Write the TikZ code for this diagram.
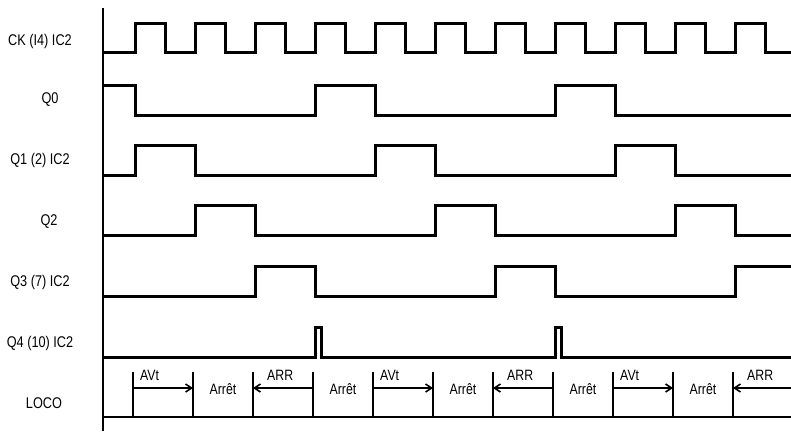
\documentclass[tikz,border=0pt]{standalone}
\usepackage{fontspec}
\setmainfont{Liberation Sans}[FakeStretch=0.82]
\usetikzlibrary{arrows.meta}
\begin{document}
\begin{tikzpicture}[x=1pt,y=-1pt,
  wave/.style={line width=3pt,line join=miter,line cap=butt},
  sig/.style={font=\fontsize{15.5}{17}\selectfont,inner sep=0pt},
  loco/.style={font=\fontsize{15}{17}\selectfont,inner sep=0pt},
  tickline/.style={line width=1.4pt},
  dirarrow/.style={line width=1.3pt,-{Straight Barb[length=6pt,width=8pt,line width=1.6pt]}}]
\useasboundingbox (0,0) rectangle (791,431);
\fill[white] (0,0) rectangle (791,431);
% axis
\draw[line width=2pt] (103,8) -- (103,431);
% labels
\node[sig] (lck) at (40,41) {CK (I4) IC2};
\node[sig] (lq0) at (50,100) {Q0};
\node[sig] (lq1) at (40,160) {Q1 (2) IC2};
\node[sig] (lq2) at (49,222) {Q2};
\node[sig] (lq3) at (40,282) {Q3 (7) IC2};
\node[sig] (lq4) at (40,343) {Q4 (10) IC2};
\node[sig] (lloco) at (44,403) {LOCO};
% CK
\draw[wave] (104,52) \foreach \r in {135,195,...,735} { -- (\r,52) -- (\r,23) -- ({\r+30},23) -- ({\r+30},52) } -- (791,52);
% Q0
\draw[wave] (104,85) -- (135,85) -- (135,115) -- (315,115) -- (315,85) -- (375,85) -- (375,115)
  -- (555,115) -- (555,85) -- (615,85) -- (615,115) -- (791,115);
% Q1
\draw[wave] (104,175) -- (135,175) -- (135,145) -- (195,145) -- (195,175) -- (375,175) -- (375,145)
  -- (435,145) -- (435,175) -- (615,175) -- (615,145) -- (675,145) -- (675,175) -- (791,175);
% Q2
\draw[wave] (104,235) -- (195,235) -- (195,205) -- (255,205) -- (255,235) -- (435,235) -- (435,205)
  -- (495,205) -- (495,235) -- (675,235) -- (675,205) -- (735,205) -- (735,235) -- (791,235);
% Q3
\draw[wave] (104,296) -- (255,296) -- (255,266) -- (315,266) -- (315,296) -- (495,296) -- (495,266)
  -- (555,266) -- (555,296) -- (735,296) -- (735,266) -- (791,266);
% Q4
\draw[wave] (103,357) -- (315,357) -- (315,327) -- (321,327) -- (321,357) -- (555,357) -- (555,327)
  -- (561,327) -- (561,357) -- (791,357);
% LOCO row
\draw[tickline] (103,417) -- (791,417);
\foreach \i in {0,...,10} {
  \coordinate (t\i) at ({133+60*\i},372);
  \coordinate (b\i) at ({133+60*\i},417);
  \coordinate (a\i) at ({133+60*\i},388);
  \draw[tickline] (t\i) -- (b\i);
}
\coordinate (aend) at (791,388);
\draw[dirarrow] (a0) -- (a1);
\draw[dirarrow] (a4) -- (a5);
\draw[dirarrow] (a8) -- (a9);
\draw[dirarrow] (a3) -- (a2);
\draw[dirarrow] (a7) -- (a6);
\draw[dirarrow] (aend) -- (a10);
\foreach \i/\n in {0/v1,4/v2,8/v3} {
  \node[loco,anchor=base west] (avt\n) at ({133+60*\i+7},380) {AVt};
}
\foreach \i/\n in {2/r1,6/r2,10/r3} {
  \node[loco,anchor=base west] (arr\n) at ({133+60*\i+14},380) {ARR};
}
\foreach \i/\n in {1/s1,3/s2,5/s3,7/s4,9/s5} {
  \node[loco] (stop\n) at ({163+60*\i},389) {Arrêt};
}
\end{tikzpicture}
\end{document}
